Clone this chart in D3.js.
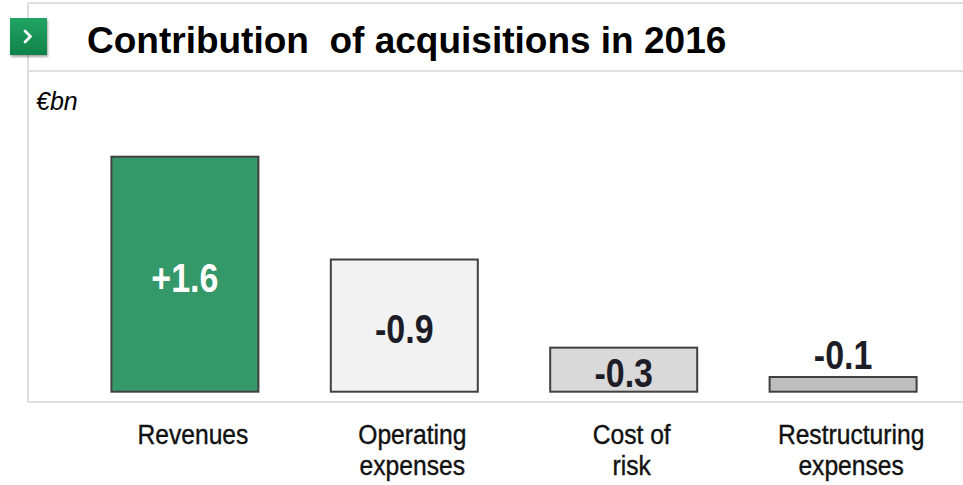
<!DOCTYPE html>
<html>
<head>
<meta charset="utf-8">
<script src="https://cdn.jsdelivr.net/npm/d3@7"></script>
<style>
  html, body { margin: 0; padding: 0; background: #fff; }
  svg { display: block; font-family: "Liberation Sans", Arial, sans-serif; }
</style>
</head>
<body>
<svg id="chart" width="963" height="485"></svg>
<script>
// Contribution of acquisitions in 2016, €bn
const categories = ["Revenues", "Operating expenses", "Cost of risk", "Restructuring expenses"];
const categoryLines = [["Revenues"], ["Operating", "expenses"], ["Cost of", "risk"], ["Restructuring", "expenses"]];
const values = [1.6, -0.9, -0.3, -0.1];
const valueLabels = ["+1.6", "-0.9", "-0.3", "-0.1"];
const barFills = ["#359868", "#f2f2f2", "#d9d9d9", "#bfbfbf"];
const labelColors = ["#ffffff", "#1d1d27", "#1d1d27", "#1d1d27"];

const svg = d3.select("#chart");

// Frame lines
const frame = svg.append("g").attr("stroke", "#dedede").attr("stroke-width", 2);
frame.append("line").attr("x1", 28).attr("x2", 28).attr("y1", 3).attr("y2", 402);
frame.append("line").attr("x1", 28).attr("x2", 963).attr("y1", 3).attr("y2", 3);
frame.append("line").attr("x1", 28).attr("x2", 963).attr("y1", 71).attr("y2", 71);
frame.append("line").attr("x1", 28).attr("x2", 963).attr("y1", 402).attr("y2", 402);

// Title badge
const defs = svg.append("defs");
const grad = defs.append("linearGradient").attr("id", "badge").attr("x1", 0).attr("x2", 0).attr("y1", 0).attr("y2", 1);
grad.append("stop").attr("offset", "0%").attr("stop-color", "#22a463");
grad.append("stop").attr("offset", "100%").attr("stop-color", "#0f8248");
const shadow = defs.append("filter").attr("id", "shadow").attr("x", "-20%").attr("y", "-20%").attr("width", "150%").attr("height", "150%");
shadow.append("feDropShadow").attr("dx", 1).attr("dy", 2).attr("stdDeviation", 1.2).attr("flood-color", "#000").attr("flood-opacity", 0.35);

svg.append("rect").attr("x", 10).attr("y", 18).attr("width", 37).attr("height", 37)
  .attr("fill", "url(#badge)").attr("filter", "url(#shadow)");
svg.append("path").attr("d", "M25,31 L30.5,36.5 L25,42")
  .attr("fill", "none").attr("stroke", "#fff").attr("stroke-width", 2.8).attr("stroke-linecap", "round").attr("stroke-linejoin", "round");

svg.append("text").attr("x", 87).attr("y", 53)
  .attr("font-size", 37).attr("font-weight", "bold").attr("fill", "#000")
  .attr("xml:space", "preserve").style("white-space", "pre")
  .text("Contribution  of acquisitions in 2016");

svg.append("text").attr("x", 36).attr("y", 110)
  .attr("font-size", 25).attr("font-style", "italic").attr("fill", "#000")
  .text("€bn");

// Scales
const x = d3.scaleBand().domain(categories).range([39, 989]).paddingInner(0.33).paddingOuter(0.33);
const baseY = 391.7;
const y = d3.scaleLinear().domain([0, 1.6]).range([baseY, 156.7]);

const bars = svg.append("g").selectAll("g").data(categories).join("g");

bars.append("rect")
  .attr("x", d => x(d))
  .attr("width", x.bandwidth())
  .attr("y", (d, i) => y(Math.abs(values[i])))
  .attr("height", (d, i) => baseY - y(Math.abs(values[i])))
  .attr("fill", (d, i) => barFills[i])
  .attr("stroke", "#404040")
  .attr("stroke-width", 2);

// Value labels: inside tall bars, above short ones
const capH = 29;
bars.append("text")
  .attr("transform", (d, i) => {
    const top = y(Math.abs(values[i]));
    const h = baseY - top;
    const by = h > 40 ? Math.min((top + baseY) / 2 + capH / 2 + 3, baseY) : top - 8;
    return `translate(${x(d) + x.bandwidth() / 2},${by}) scale(0.85,1)`;
  })
  .attr("text-anchor", "middle")
  .attr("font-size", 40)
  .attr("font-weight", "bold")
  .attr("fill", (d, i) => labelColors[i])
  .text((d, i) => valueLabels[i]);

// Category labels, set a little right of the bar centres
const labelShift = 8;
const lineBaselines = [444, 475];
bars.each(function (d, i) {
  const g = d3.select(this);
  categoryLines[i].forEach((line, j) => {
    g.append("text")
      .attr("transform", `translate(${x(d) + x.bandwidth() / 2 + labelShift},${lineBaselines[j]}) scale(0.88,1)`)
      .attr("text-anchor", "middle")
      .attr("font-size", 28)
      .attr("fill", "#111")
      .attr("stroke", "#111")
      .attr("stroke-width", 0.4)
      .text(line);
  });
});
</script>
</body>
</html>
